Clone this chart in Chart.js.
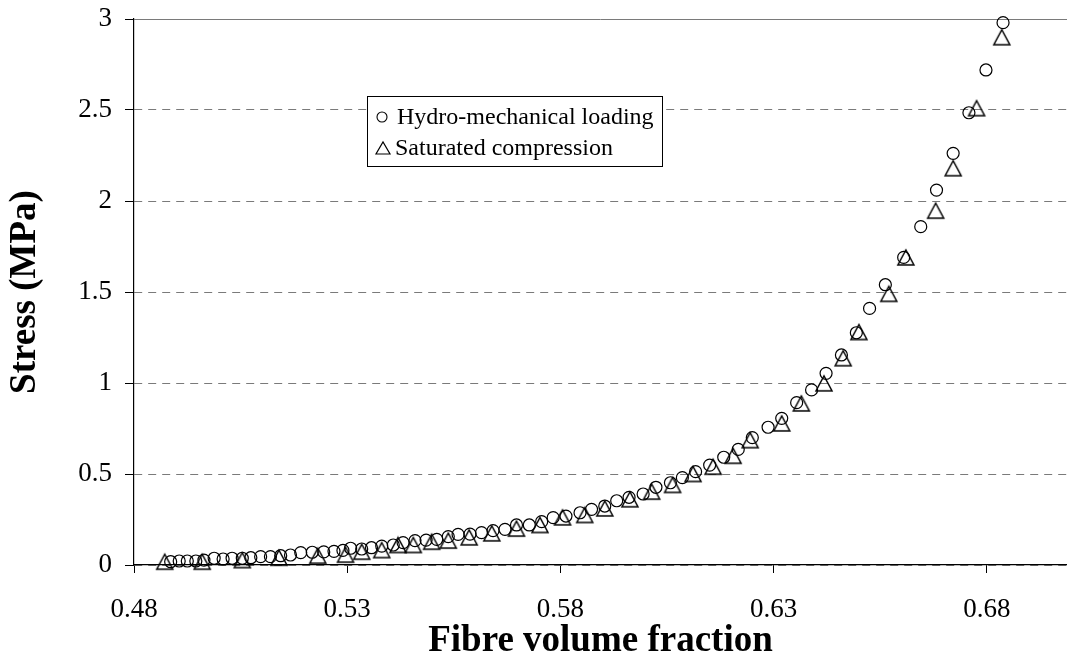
<!DOCTYPE html>
<html>
<head>
<meta charset="utf-8">
<script src="https://cdn.jsdelivr.net/npm/chart.js@4.4.0/dist/chart.umd.min.js"></script>
<style>
  body { margin: 0; background: #fff; }
  canvas { display: block; }
</style>
</head>
<body>
<canvas id="chart" width="1067" height="666"></canvas>
<script>
// hydro-mechanical loading (circles)
const hydroX = [0.4886, 0.4906, 0.4925, 0.4945, 0.4964, 0.4988, 0.5009, 0.503, 0.5054, 0.5074,
  0.5097, 0.512, 0.5144, 0.5167, 0.5191, 0.5218, 0.5245, 0.5269, 0.529, 0.5308,
  0.5334, 0.5357, 0.5381, 0.5408, 0.5431, 0.5459, 0.5485, 0.551, 0.5537, 0.556,
  0.5588, 0.5615, 0.5642, 0.567, 0.5697, 0.5727, 0.5756, 0.5783, 0.5813, 0.5846,
  0.5873, 0.5904, 0.5932, 0.5961, 0.5994, 0.6024, 0.6058, 0.6086, 0.6117, 0.615,
  0.6183, 0.6217, 0.625, 0.6287, 0.6319, 0.6354, 0.6389, 0.6423, 0.6459, 0.6494,
  0.6525, 0.6562, 0.6605, 0.6645, 0.6682, 0.6721, 0.6758, 0.6798, 0.6838];
const hydroY = [0.018, 0.022, 0.022, 0.022, 0.027, 0.037, 0.033, 0.037, 0.037, 0.04,
  0.046, 0.046, 0.051, 0.055, 0.068, 0.07, 0.072, 0.075, 0.08, 0.092,
  0.088, 0.095, 0.104, 0.11, 0.123, 0.134, 0.137, 0.141, 0.156, 0.168,
  0.17, 0.178, 0.189, 0.196, 0.22, 0.22, 0.238, 0.26, 0.269, 0.287,
  0.306, 0.324, 0.353, 0.372, 0.39, 0.427, 0.452, 0.48, 0.513, 0.549,
  0.592, 0.635, 0.7, 0.757, 0.806, 0.892, 0.962, 1.053, 1.154, 1.276,
  1.41, 1.54, 1.69, 1.859, 2.06, 2.262, 2.485, 2.72, 2.98];

// saturated compression (triangles)
const satX = [0.4872, 0.496, 0.5054, 0.514, 0.5231, 0.5296, 0.5334, 0.5381, 0.5419, 0.5455,
  0.5498, 0.5537, 0.5586, 0.5639, 0.5697, 0.5752, 0.5805, 0.5857, 0.5904, 0.5963,
  0.6014, 0.6063, 0.6111, 0.6158, 0.6205, 0.6245, 0.6319, 0.6365, 0.6418, 0.6463,
  0.65, 0.657, 0.661, 0.668, 0.6721, 0.6776, 0.6835];
const satY = [0.018, 0.018, 0.027, 0.04, 0.051, 0.057, 0.073, 0.082, 0.11, 0.11,
  0.128, 0.134, 0.152, 0.174, 0.2, 0.22, 0.262, 0.275, 0.311, 0.361,
  0.403, 0.44, 0.5, 0.54, 0.6, 0.686, 0.778, 0.888, 0.998, 1.136,
  1.28, 1.49, 1.69, 1.947, 2.18, 2.51, 2.9];

const xTicks = [0.48, 0.53, 0.58, 0.63, 0.68];
const legendLabels = ["Hydro-mechanical loading", "Saturated compression"];

const serif = "Liberation Serif";

// open triangle marker, centred on its bounding box like the spreadsheet one
const triMarker = (w, h, lw) => {
  const c = document.createElement("canvas");
  c.width = w + 4;
  c.height = h + 4;
  const g = c.getContext("2d");
  g.strokeStyle = "#000";
  g.lineWidth = lw;
  g.lineJoin = "miter";
  g.beginPath();
  g.moveTo(2, h + 2);
  g.lineTo(w + 2, h + 2);
  g.lineTo(w / 2 + 2, 2);
  g.closePath();
  g.stroke();
  return c;
};

const toPoints = (xs, ys) => xs.map((x, i) => ({ x: x, y: ys[i] }));

const legendBox = {
  id: "legendBox",
  afterDraw(chart) {
    const ctx = chart.ctx;
    ctx.save();
    ctx.fillStyle = "#fff";
    ctx.fillRect(367, 96, 295, 70);
    ctx.strokeStyle = "#000";
    ctx.lineWidth = 1;
    ctx.strokeRect(367.5, 96.5, 295, 70);

    ctx.beginPath();
    ctx.arc(382, 117, 5, 0, Math.PI * 2);
    ctx.lineWidth = 1.1;
    ctx.stroke();
    ctx.drawImage(triMarker(14, 12, 1.2), 374, 140);

    ctx.fillStyle = "#000";
    ctx.font = "24px '" + serif + "'";
    ctx.textBaseline = "alphabetic";
    ctx.fillText(legendLabels[0], 397, 124);
    ctx.fillText(legendLabels[1], 395, 155);
    ctx.restore();
  },
};

new Chart(document.getElementById("chart").getContext("2d"), {
  type: "scatter",
  data: {
    datasets: [
      {
        label: legendLabels[0],
        data: toPoints(hydroX, hydroY),
        pointStyle: "circle",
        pointRadius: 6,
        pointBorderWidth: 1.2,
        pointBorderColor: "#000",
        pointBackgroundColor: "rgba(0,0,0,0)",
      },
      {
        label: legendLabels[1],
        data: toPoints(satX, satY),
        pointStyle: triMarker(16, 15, 1.5),
        pointRadius: 8,
        pointBorderColor: "#000",
        pointBackgroundColor: "rgba(0,0,0,0)",
      },
    ],
  },
  options: {
    responsive: false,
    animation: false,
    clip: false,
    layout: { autoPadding: false, padding: { top: 19, right: 0, bottom: 0, left: 0 } },
    plugins: {
      legend: { display: false },
      tooltip: { enabled: false },
    },
    scales: {
      x: {
        type: "linear",
        min: 0.48,
        max: 0.6988,
        afterBuildTicks: (scale) => {
          scale.ticks = xTicks.map((v) => ({ value: v }));
        },
        afterFit: (scale) => {
          scale.height = 101;
        },
        grid: {
          drawOnChartArea: false,
          drawTicks: true,
          tickLength: 8,
          tickColor: "#000",
          tickWidth: 1,
        },
        border: { display: true, color: "#000", width: 1.2 },
        ticks: {
          color: "#000",
          padding: 21,
          maxRotation: 0,
          font: { family: serif, size: 27 },
          callback: (v) => v.toFixed(2),
        },
        title: {
          display: true,
          text: "Fibre volume fraction",
          color: "#000",
          font: { family: serif, size: 37, weight: "bold" },
          padding: { top: 0, bottom: 2 },
        },
      },
      y: {
        min: 0,
        max: 3,
        afterFit: (scale) => {
          scale.width = 134;
        },
        grid: {
          color: "#7a7a7a",
          lineWidth: 1,
          drawTicks: true,
          tickLength: 9,
          tickColor: "#000",
        },
        border: {
          display: true,
          color: "#000",
          width: 1.2,
          dash: (ctx) => (ctx.tick && ctx.tick.value !== 3 ? [8, 6] : []),
        },
        ticks: {
          stepSize: 0.5,
          color: "#000",
          padding: 13,
          // small line height so the top label does not push the plot down
          font: { family: serif, size: 27, lineHeight: 0.4 },
          callback: (v) => String(Number(v.toFixed(1))),
        },
        title: {
          display: true,
          text: "Stress (MPa)",
          color: "#000",
          font: { family: serif, size: 37, weight: "bold" },
          padding: { top: 3, bottom: 0 },
        },
      },
    },
  },
  plugins: [legendBox],
});
</script>
</body>
</html>
